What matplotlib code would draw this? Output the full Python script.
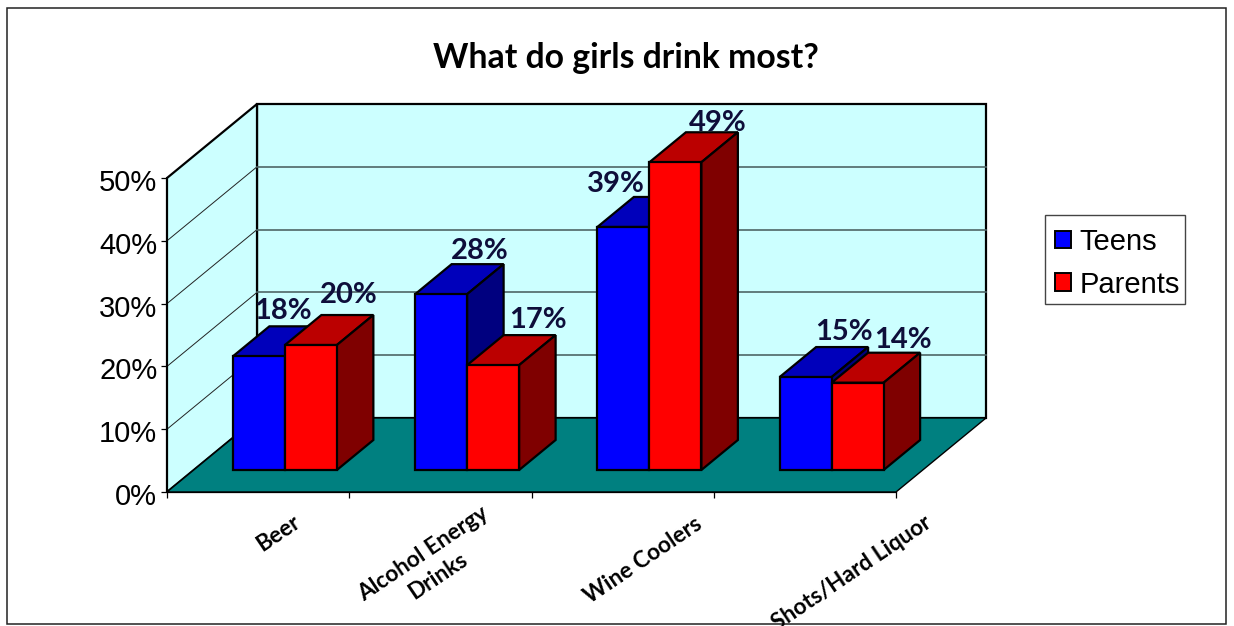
import matplotlib
matplotlib.use("Agg")
from matplotlib import pyplot as plt
from matplotlib.patches import Polygon, Rectangle
from matplotlib.transforms import ScaledTranslation

categories = ["Beer", "Alcohol Energy\nDrinks", "Wine Coolers", "Shots/Hard Liquor"]
teens = [18.1, 28, 38.7, 14.8]
parents = [19.9, 16.7, 49, 13.9]
series_names = ["Teens", "Parents"]
y_ticks = [0, 10, 20, 30, 40, 50]

# size of the picture and where the chart sits in it (pixels)
W, H = 1234, 626
x0_px, cat_px = 167, 182.25
y0_px, pct_px = 492, 6.28
# oblique depth of the box
DX = 90 / cat_px
DY = 74 / pct_px

#----------colours---------------------
wall = "#CCFFFF"
floor = "#008080"
blue = ("#0000FF", "#0000BB", "#00007F")
red = ("#FF0000", "#BB0000", "#7F0000")
label_col = "#0E0E3A"

fig = plt.figure(figsize=(W / 100, H / 100), dpi=100)
ax = fig.add_axes([0, 0, 1, 1])
ax.set_xlim(-x0_px / cat_px, (W - x0_px) / cat_px)
ax.set_ylim(-(H - y0_px) / pct_px, y0_px / pct_px)
ax.patch.set_visible(False)


def px(x, y):
    # picture pixels to data, only for things placed by hand
    return (x - x0_px) / cat_px, (y0_px - y) / pct_px


def pt(x, y, d):
    return x + d * DX, y + d * DY


def poly(points, color, z, lw=1.6, edge="black"):
    ax.add_patch(Polygon(points, closed=True, facecolor=color, edgecolor=edge, linewidth=lw, zorder=z))


# outer frame
frame = Rectangle(px(6.5, 623.5), (1226 - 6.5) / cat_px, (623.5 - 7.5) / pct_px,
                  facecolor="white", edgecolor="#222222", linewidth=1.1, zorder=0)
ax.add_patch(frame)

# walls and floor
top = y_ticks[-1]
n = len(categories)
poly([pt(0, 0, 1), pt(n, 0, 1), pt(n, top, 1), pt(0, top, 1)], wall, 1)
poly([pt(0, 0, 0), pt(0, 0, 1), pt(0, top, 1), pt(0, top, 0)], wall, 1)
poly([pt(0, 0, 0), pt(n, 0, 0), pt(n, 0, 1), pt(0, 0, 1)], floor, 1, lw=1.0)
for v in y_ticks[1:-1]:
    xs, ys = zip(pt(0, v, 0), pt(0, v, 1))
    ax.plot(xs, ys, color="#222222", lw=0.7, zorder=1.5)
    xs, ys = zip(pt(0, v, 1), pt(n, v, 1))
    ax.plot(xs, ys, color="#4F6666", lw=1.2, zorder=1.5)

# bars
bar_w = 52 / cat_px
d1, d2 = 22 / 74, 52 / 74


def bar(x, v, cols):
    poly([pt(x, v, d1), pt(x, v, d2), pt(x + bar_w, v, d2), pt(x + bar_w, v, d1)], cols[1], 3)
    poly([pt(x + bar_w, 0, d1), pt(x + bar_w, 0, d2), pt(x + bar_w, v, d2), pt(x + bar_w, v, d1)], cols[2], 3)
    poly([pt(x, 0, d1), pt(x + bar_w, 0, d1), pt(x + bar_w, v, d1), pt(x, v, d1)], cols[0], 3)


for i in range(n):
    left = i + 0.5 - bar_w
    bar(left, teens[i], blue)
    bar(left + bar_w, parents[i], red)

# value labels, nudged by hand (x, y in pixels from the bar's top back centre)
teen_nudge = [(-12, -15), (2, -13), (-44, -13), (2, -15)]
parent_nudge = [(1, -20), (8, -15), (6, -9), (9, -13)]
for i in range(n):
    for vals, nudge, shift in ((teens, teen_nudge, 0), (parents, parent_nudge, bar_w)):
        x, y = pt(i + 0.5 - bar_w / 2 + shift, vals[i], d2)
        ax.annotate("%.0f%%" % vals[i], (x, y), xytext=(nudge[i][0] * 0.72, -nudge[i][1] * 0.72),
                    textcoords="offset points", ha="center", va="center", fontsize=21,
                    fontweight="bold", family="Lato", color=label_col, zorder=5)

# axes
for s in ("top", "right"):
    ax.spines[s].set_visible(False)
ax.spines["left"].set_position(("data", 0))
ax.spines["left"].set_bounds(0, top)
ax.spines["left"].set_linewidth(1.3)
ax.spines["bottom"].set_position(("data", 0))
ax.spines["bottom"].set_bounds(0, n)
ax.spines["bottom"].set_linewidth(0.9)
ax.set_yticks(y_ticks)
ax.set_yticklabels(["%d%%" % v for v in y_ticks], fontsize=21, family="Liberation Sans")
ax.set_xticks(range(n + 1))
ax.set_xticklabels([])
ax.tick_params(axis="y", length=4.5, width=0.9, pad=2.5)
ax.tick_params(axis="x", length=4, width=0.9)
# the percent labels sit a little under their ticks
down = ScaledTranslation(0, -2 / 100, fig.dpi_scale_trans)
for lab in ax.get_yticklabels():
    lab.set_transform(lab.get_transform() + down)

# category labels, the last one runs into the frame like in the original
cat_pos = [(278, 533), (431, 565), (643, 560), (852, 573)]
for name, (cx, cy) in zip(categories, cat_pos):
    t = ax.text(*px(cx, cy), name, rotation=34, rotation_mode="anchor", ha="center", va="center",
                multialignment="center", fontsize=16.3, fontweight="bold", family="Lato",
                linespacing=1.3, color="black", zorder=5)
    if name == categories[-1]:
        t.set_clip_path(frame)

ax.text(*px(626, 58), "What do girls drink most?", ha="center", va="center", fontsize=24.3,
        fontweight="bold", family="Lato", color="black")

# legend box drawn apart so the entries can sit a bit low in it
ax.add_patch(Rectangle(px(1044.5, 303.5), 140 / cat_px, 89 / pct_px, facecolor="white",
                       edgecolor="#444444", linewidth=1.0, zorder=4))
handles = [Rectangle((0, 0), 1, 1, facecolor=blue[0], edgecolor="black", linewidth=1.4),
           Rectangle((0, 0), 1, 1, facecolor=red[0], edgecolor="black", linewidth=1.4)]
leg = ax.legend(handles, series_names, loc="upper left", bbox_to_anchor=(1044.5 / W, 1 - 217.5 / H),
                prop={"family": "Liberation Sans", "size": 21}, frameon=False,
                handlelength=0.55, handleheight=0.55, handletextpad=0.3,
                labelspacing=0.5, borderpad=0.36, borderaxespad=0)
leg.set_zorder(6)

fig.savefig("out.png", dpi=100)
